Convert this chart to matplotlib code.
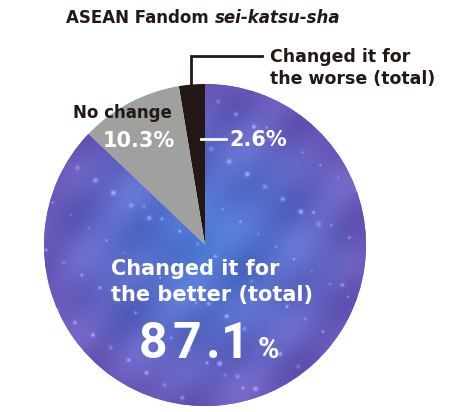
import numpy as np
import matplotlib.pyplot as plt

# data
labels = ["Changed it for\nthe worse (total)", "No change", "Changed it for\nthe better (total)"]
shares = [2.6, 10.3, 87.1]
colors = ["#231815", "#a0a09f", "#4f66c8"]
title_plain = "ASEAN Fandom "
title_italic = "sei-katsu-sha"

W, H = 458, 412
fig = plt.figure(figsize=(W / 100, H / 100), dpi=100)
ax = fig.add_axes([0, 0, 1, 1])

cx, cy, R = 205, H - 245, 161
fam = ["DejaVu Sans"]
ink = "#231815"

wedges, _ = ax.pie(shares, colors=colors, startangle=90, counterclock=True,
                   center=(cx, cy), radius=R, frame=True,
                   wedgeprops=dict(linewidth=0))
ax.set_xlim(0, W)
ax.set_ylim(0, H)
ax.axis("off")

# galaxy texture for the big wedge
n = 400
xs = np.linspace(cx - R, cx + R, n)
ys = np.linspace(cy - R, cy + R, n)
X, Y = np.meshgrid(xs, ys)
rr = np.hypot(X - cx, Y - cy) / R
blue = np.array([0x4c, 0x7a, 0xd4]) / 255
purple = np.array([0x6b, 0x5a, 0xbb]) / 255
t = np.clip(rr, 0, 1) ** 1.2
cloud = (np.sin(X / 23.0 + Y / 41.0) * np.cos(Y / 19.0 - X / 57.0)
         + 0.5 * np.sin(X / 11.0 - Y / 13.0)) * 0.035
img = blue[None, None, :] * (1 - t[..., None]) + purple[None, None, :] * t[..., None]
img = img + cloud[..., None]
# small stars
phi1, phi2 = 0.6180339887, 0.7548776662
for i in range(1, 120):
    sx = cx - R + ((i * phi1) % 1) * 2 * R
    sy = cy - R + ((i * phi2 + 0.3) % 1) * 2 * R
    s = 0.7 + (i % 4) * 0.3
    g = np.exp(-((X - sx) ** 2 + (Y - sy) ** 2) / (2 * s ** 2))
    img = img + g[..., None] * (0.18 + 0.06 * (i % 3))
img = np.clip(img, 0, 1)
im = ax.imshow(img, extent=(cx - R, cx + R, cy - R, cy + R), origin="lower",
               interpolation="bilinear", zorder=1.5)
im.set_clip_path(wedges[2])

# title
t1 = ax.text(66, H - 18, title_plain, fontsize=12, fontweight="bold",
             family=fam, color=ink, va="center", ha="left")
fig.canvas.draw()
bb = t1.get_window_extent()
ax.text(bb.x1, H - 18, title_italic,
        fontsize=12, fontweight="bold", style="italic", family=fam,
        color=ink, va="center", ha="left")

# worse label with leader line
ax.plot([191, 191, 262], [H - 84, H - 56, H - 56], color=ink, lw=2,
        solid_joinstyle="miter", zorder=3)
ax.text(270, H - 68, labels[0], fontsize=12.5, fontweight="bold", family=fam,
        color=ink, va="center", ha="left", linespacing=1.3)
ax.plot([201, 226], [H - 139, H - 139], color="white", lw=2, zorder=3)
ax.text(229, H - 140, f"{shares[0]}%", fontsize=15, fontweight="bold", family=fam,
        color="white", va="center", ha="left", zorder=4)

# no change label
ax.text(172, H - 113, labels[1], fontsize=12, fontweight="bold", family=fam,
        color=ink, va="center", ha="right", zorder=4)
ax.text(175, H - 141, f"{shares[1]}%", fontsize=15, fontweight="bold", family=fam,
        color="white", va="center", ha="right", zorder=4)

# better label
ax.text(111, H - 282, labels[2], fontsize=15, fontweight="bold", family=fam,
        color="white", va="center", ha="left", linespacing=1.35, zorder=4)
big = f"{shares[2]}"
for ch, xc in zip(big, [153, 187, 213, 235]):
    ax.text(xc, H - 358, ch, fontsize=36, fontweight="bold", family=["Roboto"],
            color="white", va="baseline", ha="center", zorder=4)
ax.text(258, H - 358, "%", fontsize=21, fontweight="bold", family=["Roboto"],
        color="white", va="baseline", ha="left", zorder=4)

fig.savefig("out.png", dpi=100)
